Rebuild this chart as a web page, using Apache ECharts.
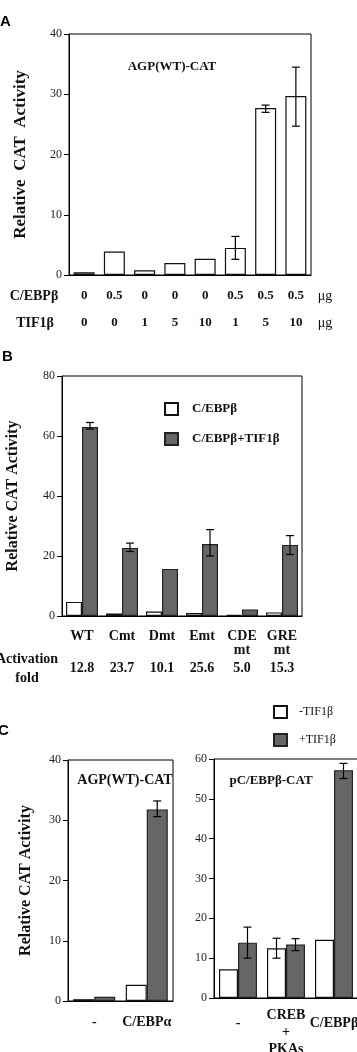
<!DOCTYPE html>
<html>
<head>
<meta charset="utf-8">
<script src="https://cdn.jsdelivr.net/npm/echarts@6/dist/echarts.min.js"></script>
<style>
  html, body { margin: 0; padding: 0; background: #fff; }
  #chart { width: 357px; height: 1052px; }
</style>
</head>
<body>
<div id="chart"></div>
<script>
// panel A: C/EBPβ + TIF1β doses on AGP(WT)-CAT
const aCebpDose = ['0', '0.5', '0', '0', '0', '0.5', '0.5', '0.5']
const aTifDose = ['0', '0', '1', '5', '10', '1', '5', '10']
const aActivity = [0.45, 3.9, 0.8, 2.0, 2.7, 4.5, 27.7, 29.7]
const aErr = [[5, 2.6, 6.4], [6, 27.0, 28.2], [7, 24.7, 34.5]] // [index, low, high]
const aTicks = [0, 10, 20, 30, 40]

// panel B: mutants
const bNames = ['WT', 'Cmt', 'Dmt', 'Emt', 'CDE', 'GRE']
const bSub = ['', '', '', '', 'mt', 'mt']
const bCebp = [4.7, 0.8, 1.5, 1.0, 0.4, 1.2]
const bCebpTif = [63.0, 22.7, 15.7, 24.0, 2.2, 23.7]
const bCebpTifErr = [[0, 62.3, 64.5], [1, 21.5, 24.3], [3, 20.0, 28.8], [5, 20.5, 26.8]]
const bFold = ['12.8', '23.7', '10.1', '25.6', '5.0', '15.3']

// panel C left: AGP(WT)-CAT
const cLeftCats = ['-', 'C/EBPα']
const cLeftMinus = [0.3, 2.7]
const cLeftPlus = [0.7, 31.8]
const cLeftPlusErr = [[1, 30.6, 33.2]]

// panel C right: pC/EBPβ-CAT
const cRightCats = ['-', 'CREB\n+\nPKAs', 'C/EBPβ']
const cRightMinus = [7.2, 12.5, 14.6]
const cRightPlus = [13.9, 13.4, 57.2]
const cRightMinusErr = [[1, 10.0, 15.0]]
const cRightPlusErr = [[0, 10.0, 17.8], [1, 11.9, 14.9], [2, 55.1, 58.9]]

const SERIF = '"Liberation Serif", "DejaVu Serif", serif'
const DARK = '#666'

const chart = echarts.init(document.getElementById('chart'), null, { renderer: 'canvas' })

// error bar: vertical whisker with caps, shifted by dx pixels from the category centre
function errSeries(data, xi, dx, name) {
  return {
    type: 'custom',
    name: name,
    xAxisIndex: xi,
    yAxisIndex: xi,
    z: 10,
    silent: true,
    data: data,
    renderItem: (params, api) => {
      const hi = api.coord([api.value(0), api.value(2)])
      const lo = api.coord([api.value(0), api.value(1)])
      const x = hi[0] + dx
      const cap = 4
      const style = { stroke: '#000', lineWidth: 1.2 }
      return {
        type: 'group',
        children: [
          { type: 'line', shape: { x1: x, y1: hi[1], x2: x, y2: lo[1] }, style },
          { type: 'line', shape: { x1: x - cap, y1: hi[1], x2: x + cap, y2: hi[1] }, style },
          { type: 'line', shape: { x1: x - cap, y1: lo[1], x2: x + cap, y2: lo[1] }, style },
        ],
      }
    },
  }
}

const yAxisBase = {
  type: 'value',
  axisLine: { show: true, lineStyle: { color: '#000', width: 1 } },
  axisTick: { show: true, length: 5, lineStyle: { color: '#000' } },
  splitLine: { show: false },
  axisLabel: { color: '#222', fontFamily: SERIF, fontSize: 12, margin: 7 },
  nameLocation: 'middle',
  nameRotate: 90,
  nameTextStyle: { fontFamily: SERIF, fontWeight: 'bold', fontSize: 16, color: '#111' },
}
const xAxisBase = {
  type: 'category',
  axisLine: { lineStyle: { color: '#000', width: 1 } },
  axisTick: { show: false },
}
const whiteBar = { color: '#fff', borderColor: '#111', borderWidth: 1.2 }
const darkBar = { color: DARK, borderColor: '#222', borderWidth: 1.2 }
const gridBase = {
  show: true, borderColor: '#000', borderWidth: 1, backgroundColor: 'transparent',
  containLabel: false, outerBoundsMode: 'none',
}

const label = (text, x, y, size, extra) => ({
  type: 'text',
  x, y,
  style: Object.assign({
    text, fontFamily: SERIF, fontWeight: 'bold', fontSize: size, fill: '#111',
    align: 'center', verticalAlign: 'middle',
  }, extra || {}),
})
const letter = (text, x, y) => ({
  type: 'text', x, y,
  style: { text, fontFamily: '"Liberation Sans", Arial, sans-serif', fontWeight: 'bold', fontSize: 15, fill: '#000', verticalAlign: 'middle' },
})

chart.setOption({
  animation: false,
  grid: [
    Object.assign({ left: 69, top: 34, width: 242, height: 241 }, gridBase),
    Object.assign({ left: 62, top: 376, width: 240, height: 240 }, gridBase),
    Object.assign({ left: 68, top: 760, width: 105, height: 241 }, gridBase),
    Object.assign({ left: 214, top: 759, width: 144, height: 239 }, gridBase),
  ],
  legend: [
    {
      left: 164, top: 402, padding: 0, orient: 'vertical', itemWidth: 13, itemHeight: 12, itemGap: 16,
      icon: 'rect', selectedMode: false,
      data: ['C/EBPβ', 'C/EBPβ+TIF1β'],
      textStyle: { fontFamily: SERIF, fontWeight: 'bold', fontSize: 13, color: '#111', padding: [0, 0, 0, 9] },
    },
    {
      left: 273, top: 705, padding: 0, orient: 'vertical', itemWidth: 13, itemHeight: 12, itemGap: 14,
      icon: 'rect', selectedMode: false,
      data: ['-TIF1β', '+TIF1β'],
      textStyle: { fontFamily: SERIF, fontSize: 12, color: '#111', padding: [0, 0, 0, 7] },
    },
  ],
  xAxis: [
    Object.assign({}, xAxisBase, {
      gridIndex: 0, data: aCebpDose,
      axisLabel: {
        interval: 0, margin: 7,
        formatter: (v, i) => `{v|${aCebpDose[i]}}\n{v|${aTifDose[i]}}`,
        rich: { v: { fontFamily: SERIF, fontWeight: 'bold', fontSize: 13, lineHeight: 27, color: '#111' } },
      },
    }),
    Object.assign({}, xAxisBase, {
      gridIndex: 1, data: bNames,
      axisLabel: {
        interval: 0, margin: 13,
        formatter: (v, i) => `{n|${bNames[i]}}\n{n|${bSub[i] || ' '}}\n{f|${bFold[i]}}`,
        rich: {
          n: { fontFamily: SERIF, fontWeight: 'bold', fontSize: 14, lineHeight: 14, color: '#111' },
          f: { fontFamily: SERIF, fontWeight: 'bold', fontSize: 14, lineHeight: 22, color: '#111' },
        },
      },
    }),
    Object.assign({}, xAxisBase, {
      gridIndex: 2, data: cLeftCats,
      axisLabel: {
        interval: 0, margin: 5,
        formatter: (v) => `{s|${v}}`,
        rich: { s: { fontFamily: SERIF, fontWeight: 'bold', fontSize: 14, lineHeight: 33, color: '#111' } },
      },
    }),
    Object.assign({}, xAxisBase, {
      gridIndex: 3, data: cRightCats,
      axisLabel: {
        interval: 0, margin: 9,
        formatter: (v) => v.includes('\n')
          ? v.split('\n').map((t) => `{m|${t}}`).join('\n')
          : `{s|${v}}`,
        rich: {
          s: { fontFamily: SERIF, fontWeight: 'bold', fontSize: 14, lineHeight: 33, color: '#111' },
          m: { fontFamily: SERIF, fontWeight: 'bold', fontSize: 14, lineHeight: 17, color: '#111' },
        },
      },
    }),
  ],
  yAxis: [
    Object.assign({}, yAxisBase, {
      gridIndex: 0, min: aTicks[0], max: aTicks[aTicks.length - 1], interval: 10,
      name: 'Relative  CAT  Activity', nameGap: 40,
      nameTextStyle: Object.assign({}, yAxisBase.nameTextStyle, { fontSize: 17 }),
    }),
    Object.assign({}, yAxisBase, {
      gridIndex: 1, min: 0, max: 80, interval: 20,
      name: 'Relative CAT Activity', nameGap: 41,
    }),
    Object.assign({}, yAxisBase, {
      gridIndex: 2, min: 0, max: 40, interval: 10,
      name: 'Relative CAT Activity', nameGap: 34,
    }),
    Object.assign({}, yAxisBase, {
      gridIndex: 3, min: 0, max: 60, interval: 10,
    }),
  ],
  series: [
    { type: 'bar', name: 'A', xAxisIndex: 0, yAxisIndex: 0, data: aActivity, barWidth: 21, itemStyle: whiteBar },
    errSeries(aErr, 0, 0, 'A err'),

    { type: 'bar', name: 'C/EBPβ', xAxisIndex: 1, yAxisIndex: 1, data: bCebp, barWidth: 16, barGap: '0%', itemStyle: whiteBar },
    { type: 'bar', name: 'C/EBPβ+TIF1β', xAxisIndex: 1, yAxisIndex: 1, data: bCebpTif, barWidth: 16, barGap: '0%', itemStyle: darkBar },
    errSeries(bCebpTifErr, 1, 8, 'B err'),

    { type: 'bar', name: '-TIF1β', xAxisIndex: 2, yAxisIndex: 2, data: cLeftMinus, barWidth: 21, barGap: '0%', itemStyle: whiteBar },
    { type: 'bar', name: '+TIF1β', xAxisIndex: 2, yAxisIndex: 2, data: cLeftPlus, barWidth: 21, barGap: '0%', itemStyle: darkBar },
    errSeries(cLeftPlusErr, 2, 10.5, 'C left err'),

    { type: 'bar', name: '-TIF1β', xAxisIndex: 3, yAxisIndex: 3, data: cRightMinus, barWidth: 19, barGap: '0%', itemStyle: whiteBar },
    { type: 'bar', name: '+TIF1β', xAxisIndex: 3, yAxisIndex: 3, data: cRightPlus, barWidth: 19, barGap: '0%', itemStyle: darkBar },
    errSeries(cRightMinusErr, 3, -9.5, 'C right err -'),
    errSeries(cRightPlusErr, 3, 9.5, 'C right err +'),
  ],
  graphic: [
    letter('A', 0, 22),
    letter('B', 2, 357),
    letter('C', -2, 731),
    label('AGP(WT)-CAT', 172, 67, 13),
    label('C/EBPβ', 34, 296, 14),
    label('TIF1β', 35, 323, 14),
    label('μg', 325, 296, 14, { fontWeight: 'normal' }),
    label('μg', 325, 323, 14, { fontWeight: 'normal' }),
    label('Activation', 27, 659, 14),
    label('fold', 27, 678, 14),
    label('AGP(WT)-CAT', 125, 780, 14),
    label('pC/EBPβ-CAT', 271, 781, 13),
  ],
})
</script>
</body>
</html>
